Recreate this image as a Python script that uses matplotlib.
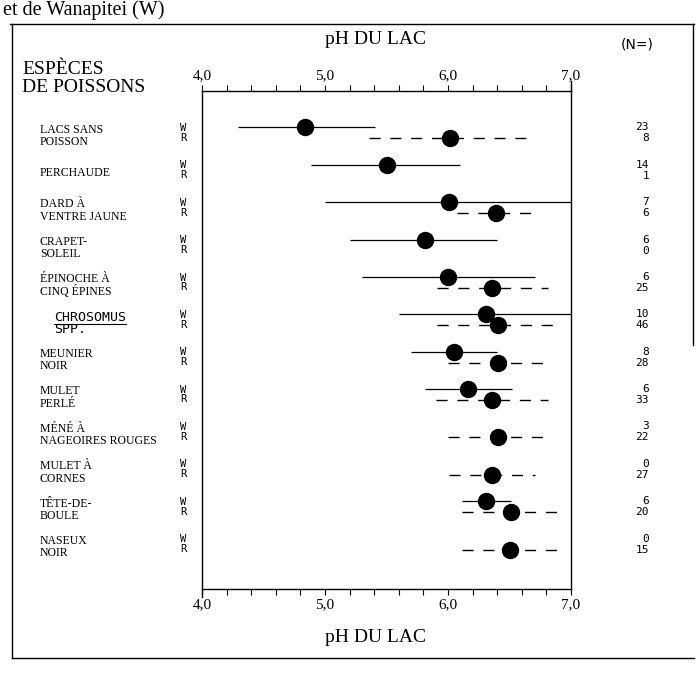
import matplotlib
matplotlib.use("Agg")
import matplotlib.pyplot as plt
from matplotlib.lines import Line2D
import matplotlib.transforms as mtransforms
import numpy as np

# ---------------- data ----------------
species = ["LACS SANS\nPOISSON", "PERCHAUDE", "DARD À\nVENTRE JAUNE", "CRAPET-\nSOLEIL",
           "ÉPINOCHE À\nCINQ ÉPINES", "CHROSOMUS\nSPP.", "MEUNIER\nNOIR", "MULET\nPERLÉ",
           "MÉNÉ À\nNAGEOIRES ROUGES", "MULET À\nCORNES", "TÊTE-DE-\nBOULE", "NASEUX\nNOIR"]
n_w = [23, 14, 7, 6, 6, 10, 8, 6, 3, 0, 6, 0]
n_r = [8, 1, 6, 0, 25, 46, 28, 33, 22, 27, 20, 15]
mean_w = [4.84, 5.50, 6.01, 5.81, 6.00, 6.31, 6.05, 6.16, None, None, 6.31, None]
lo_w = [4.29, 4.89, 5.00, 5.20, 5.30, 5.60, 5.70, 5.81, None, None, 6.11, None]
hi_w = [5.41, 6.10, 7.00, 6.40, 6.71, 7.00, 6.40, 6.52, None, None, 6.51, None]
mean_r = [6.02, None, 6.39, None, 6.36, 6.41, 6.41, 6.36, 6.41, 6.36, 6.51, 6.50]
lo_r = [5.36, None, 6.07, None, 5.91, 5.91, 6.00, 5.90, 6.00, 6.01, 6.11, 6.11]
hi_r = [6.68, None, 6.72, None, 6.81, 6.92, 6.81, 6.81, 6.81, 6.71, 6.92, 6.91]
xticks_major = [4.0, 5.0, 6.0, 7.0]
xtick_labels = ["4,0", "5,0", "6,0", "7,0"]

# ---------------- figure ----------------
W, H = 696, 677
fig = plt.figure(figsize=(W / 100, H / 100), dpi=100)
SERIF = ["Liberation Serif", "DejaVu Serif"]
MONO = ["DejaVu Sans Mono"]


def fx(px):
    return px / W


def fy(py):
    return 1 - py / H


ax_l, ax_r, ax_t, ax_b = 202, 571, 91, 589
ax = fig.add_axes([fx(ax_l), fy(ax_b), (ax_r - ax_l) / W, (ax_b - ax_t) / H])
ax.set_xlim(4.0, 7.0)
ax.set_ylim(12.2, -1.12)
ax.set_yticks([])

minor = np.round(np.arange(4.0, 7.001, 0.2), 1)
ax.set_xticks(minor)
ax.set_xticklabels([xtick_labels[xticks_major.index(v)] if v in xticks_major else "" for v in minor],
                   family=SERIF, fontsize=11)
ax.tick_params(axis="x", which="both", direction="out", top=True, bottom=True,
               labeltop=True, labelbottom=True, length=4, width=0.8, pad=2.5)
for s in ax.spines.values():
    s.set_linewidth(1.0)
# slight spine overhangs as in the original
ax.plot([0, 0], [0, -8 / 498], transform=ax.transAxes, color="black", lw=1.0, clip_on=False)
ax.plot([1, 1], [1, 1 + 10 / 498], transform=ax.transAxes, color="black", lw=1.0, clip_on=False)

bt = mtransforms.blended_transform_factory(ax.transAxes, ax.transData)
off = 0.147
for i in range(len(species)):
    yw, yr = i - off, i + off
    if mean_w[i] is not None:
        ax.plot([lo_w[i], hi_w[i]], [yw, yw], color="black", lw=0.9, solid_capstyle="butt")
        ax.plot([mean_w[i]], [yw], "o", ms=11.5, color="black")
    if mean_r[i] is not None:
        ax.plot([lo_r[i], hi_r[i]], [yr, yr], color="black", lw=1.0, ls=(0, (8, 7)))
        ax.plot([mean_r[i]], [yr], "o", ms=11.5, color="black")

    # species names
    if species[i].startswith("CHROSOMUS"):
        ax.text(-148 / 369, i - 0.06, "CHROSOMUS", transform=bt, family=MONO, fontsize=9.5,
                ha="left", va="center")
        ax.text(-148 / 369, i + 0.27, "SPP.", transform=bt, family=MONO, fontsize=9.5,
                ha="left", va="center")
        ax.plot([-148 / 369, -76 / 369], [i + 0.12, i + 0.12], transform=bt,
                color="black", lw=0.8, clip_on=False)
    else:
        ax.text(-162 / 369, i + 0.08, species[i], transform=bt, family=SERIF, fontsize=8.5,
                ha="left", va="center", linespacing=1.05)
    # W / R labels
    ax.text(-19 / 369, i - 0.13, "W", transform=bt, family=MONO, fontsize=7.5,
            ha="center", va="center")
    ax.text(-19 / 369, i + 0.13, "R", transform=bt, family=MONO, fontsize=7.5,
            ha="center", va="center")
    # N values
    ax.text(1 + 78 / 369, yw, str(n_w[i]), transform=bt, family=MONO, fontsize=8,
            ha="right", va="center")
    ax.text(1 + 78 / 369, yr, str(n_r[i]), transform=bt, family=MONO, fontsize=8,
            ha="right", va="center")

# headers
fig.text(fx(375), fy(40), "pH DU LAC", family=SERIF, fontsize=14, ha="center", va="center")
fig.text(fx(375), fy(637), "pH DU LAC", family=SERIF, fontsize=14, ha="center", va="center")
fig.text(fx(637), fy(45), "(N=)", family=["DejaVu Sans"], fontsize=10, ha="center", va="center")
fig.text(fx(22), fy(69), "ESPÈCES", family=SERIF, fontsize=14, ha="left", va="center")
fig.text(fx(22), fy(88), "DE POISSONS", family=SERIF, fontsize=14, ha="left", va="center")
fig.text(fx(3), fy(10), "et de Wanapitei (W)", family=SERIF, fontsize=14.5, ha="left", va="center")

# outer frame
for (x0, y0, x1, y1) in [(10, 24, 694, 24), (12, 24, 12, 658), (12, 658, 694, 658), (693, 24, 693, 345)]:
    fig.add_artist(Line2D([fx(x0), fx(x1)], [fy(y0), fy(y1)], color="black", lw=1.0))

fig.savefig("out.png", dpi=100)
